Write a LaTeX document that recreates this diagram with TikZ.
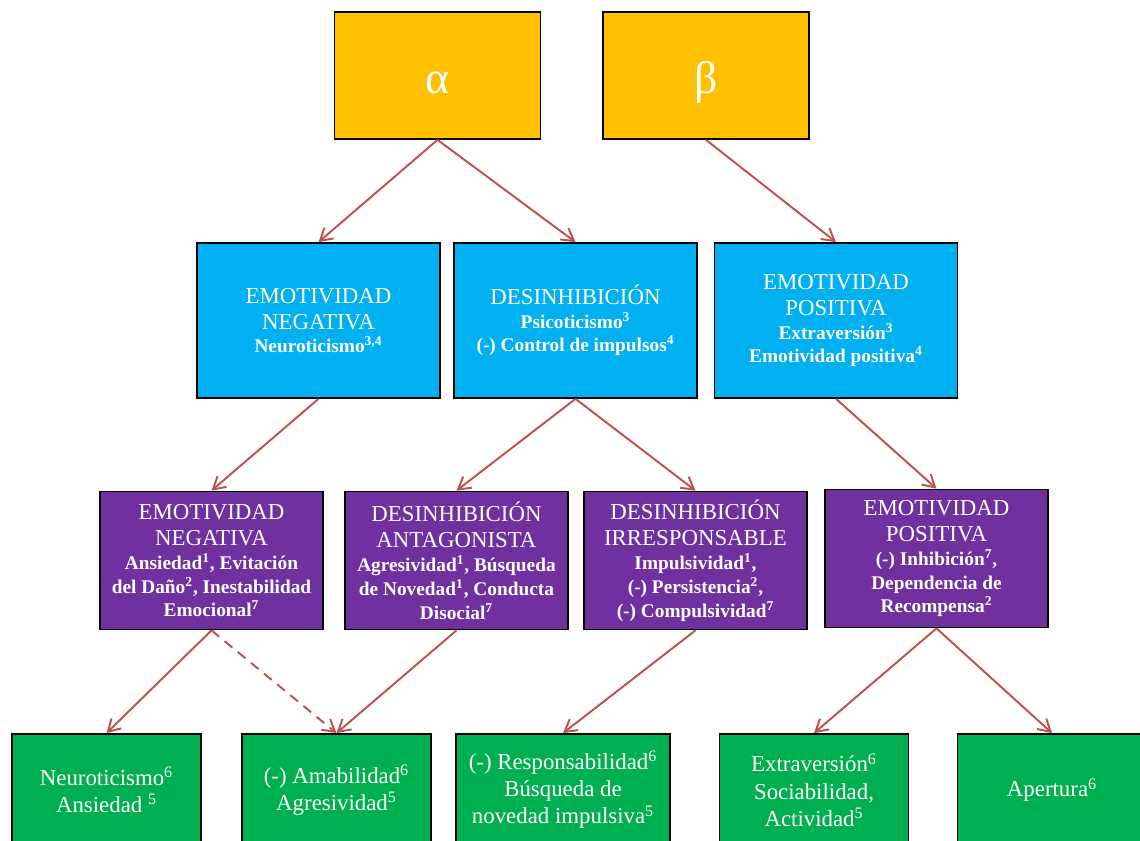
\documentclass[tikz,border=0pt]{standalone}
\usepackage{fontspec}
\setmainfont{Liberation Serif}
\usetikzlibrary{arrows.meta}
\definecolor{cgold}{HTML}{FFC000}
\definecolor{cblue}{HTML}{00B0F0}
\definecolor{cpurple}{HTML}{7030A0}
\definecolor{cgreen}{HTML}{00B050}
\definecolor{carrow}{HTML}{C0504D}
\newcommand{\hdr}{\mdseries\fontsize{13}{15}\selectfont}

\begin{document}
\begin{tikzpicture}[x=0.02cm, y=-0.02cm,
  box/.style={draw=black, line width=1pt, text=white, align=center, inner sep=2pt},
  rootbox/.style={box, fill=cgold, minimum width=4.12cm, minimum height=2.54cm, text height=20pt, text depth=0pt, font=\fontsize{26}{30}\selectfont},
  factorbox/.style={box, fill=cblue, minimum width=4.86cm, minimum height=3.1cm, font=\bfseries\fontsize{11}{13.5}\selectfont},
  facetbox/.style={box, fill=cpurple, minimum width=4.46cm, minimum height=2.76cm, font=\bfseries\fontsize{11}{13.6}\selectfont},
  traitbox/.style={box, fill=cgreen, minimum width=3.78cm, minimum height=2.24cm, font=\fontsize{13}{15.5}\selectfont},
  arr/.style={-{Straight Barb[length=2.4mm, width=2.8mm]}, line width=1.1pt, carrow},
]
  \clip (0,0) rectangle (1140,841);

  % top level
  \node[rootbox] (alpha) at (437.5,75.5) {α};
  \node[rootbox] (beta) at (706,75.5) {β};

  % broad factors
  \node[factorbox] (negemo) at (318.5,320.5) {{\hdr EMOTIVIDAD}\\[1.3pt]{\hdr NEGATIVA}\\Neuroticismo\textsuperscript{3,4}};
  \node[factorbox] (desinh) at (575.5,320.5) {{\hdr DESINHIBICIÓN}\\Psicoticismo\textsuperscript{3}\\(-) Control de impulsos\textsuperscript{4}};
  \node[factorbox] (posemo) at (836,320.5) {{\hdr EMOTIVIDAD}\\[1.3pt]{\hdr POSITIVA}\\Extraversión\textsuperscript{3}\\Emotividad positiva\textsuperscript{4}};

  % facets
  \node[facetbox] (negfac) at (211.5,560.5) {{\hdr EMOTIVIDAD}\\[1.3pt]{\hdr NEGATIVA}\\Ansiedad\textsuperscript{1}, Evitación\\del Daño\textsuperscript{2}, Inestabilidad\\Emocional\textsuperscript{7}};
  \node[facetbox] (antag) at (456.5,560.5) {{\hdr DESINHIBICIÓN}\\[1.3pt]{\hdr ANTAGONISTA}\\Agresividad\textsuperscript{1}, Búsqueda\\de Novedad\textsuperscript{1}, Conducta\\Disocial\textsuperscript{7}};
  \node[facetbox] (irresp) at (695.5,560.5) {{\hdr DESINHIBICIÓN}\\[1.3pt]{\hdr IRRESPONSABLE}\\Impulsividad\textsuperscript{1},\\(-) Persistencia\textsuperscript{2},\\(-) Compulsividad\textsuperscript{7}};
  \node[facetbox] (posfac) at (936.5,558.5) {{\hdr EMOTIVIDAD}\\[1.3pt]{\hdr POSITIVA}\\(-) Inhibición\textsuperscript{7},\\Dependencia de\\Recompensa\textsuperscript{2}};

  % traits
  \node[traitbox] (neuro) at (106.5,790) {Neuroticismo\textsuperscript{6}\\Ansiedad \textsuperscript{5}};
  \node[traitbox] (amab) at (336.5,790) {(-) Amabilidad\textsuperscript{6}\\Agresividad\textsuperscript{5}};
  \node[traitbox, minimum width=4.28cm] (respon) at (563,790) {(-) Responsabilidad\textsuperscript{6}\\Búsqueda de\\novedad impulsiva\textsuperscript{5}};
  \node[traitbox] (extra) at (814,790) {Extraversión\textsuperscript{6}\\Sociabilidad,\\Actividad\textsuperscript{5}};
  \node[traitbox] (apert) at (1052,790) {Apertura\textsuperscript{6}};

  \draw[arr] (alpha.south) -- (negemo.north);
  \draw[arr] (alpha.south) -- (desinh.north);
  \draw[arr] (beta.south) -- (posemo.north);
  \draw[arr] (negemo.south) -- (negfac.north);
  \draw[arr] (desinh.south) -- (antag.north);
  \draw[arr] (desinh.south) -- (irresp.north);
  \draw[arr] (posemo.south) -- (posfac.north);
  \draw[arr] (negfac.south) -- (neuro.north);
  \draw[arr, dash pattern=on 2mm off 1.4mm] (negfac.south) -- (amab.north);
  \draw[arr] (antag.south) -- (amab.north);
  \draw[arr] (irresp.south) -- (respon.north);
  \draw[arr] (posfac.south) -- (extra.north);
  \draw[arr] (posfac.south) -- (apert.north);
\end{tikzpicture}
\end{document}
